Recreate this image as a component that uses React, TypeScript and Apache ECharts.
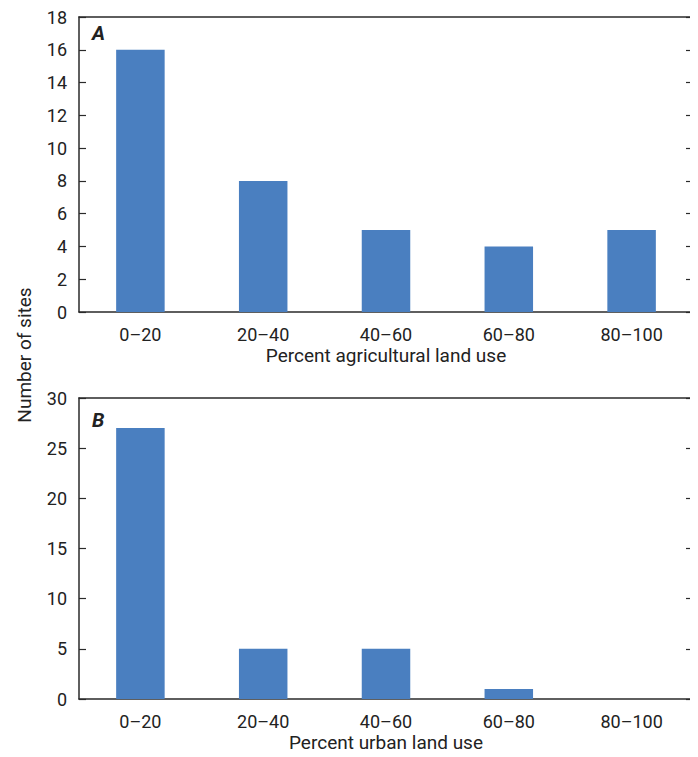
import React, { useEffect, useRef } from "react";
import * as echarts from "echarts";

const categories = ["0–20", "20–40", "40–60", "60–80", "80–100"];
const agriculturalSites = [16, 8, 5, 4, 5];
const urbanSites = [27, 5, 5, 1, 0];
const yTitle = "Number of sites";
const xTitleA = "Percent agricultural land use";
const xTitleB = "Percent urban land use";

const FONT = "'Roboto', 'Liberation Sans', sans-serif";
const BAR = "#4a7fc0";
const AX = "#2a2a2a";

export default function App() {
  const ref = useRef<HTMLDivElement>(null);
  useEffect(() => {
    if (!ref.current) return;
    const chart = echarts.init(ref.current, null, { renderer: "svg" });
    const grids = [
      { left: 71, top: 5, width: 614, height: 299 },
      { left: 71, top: 390, width: 614, height: 301 },
    ];
    const line = { show: true, onZero: false, lineStyle: { color: AX, width: 1.5 } };
    const xBottom = (gi: number, name: string) => ({
      type: "category",
      gridIndex: gi,
      data: categories,
      position: "bottom",
      name,
      nameLocation: "middle",
      nameGap: 34,
      nameTextStyle: { fontFamily: FONT, fontSize: 19, color: "#222" },
      axisLine: line,
      axisTick: { inside: true, length: 6, lineStyle: { color: AX, width: 1.2 } },
      axisLabel: { fontFamily: FONT, fontSize: 18, color: "#222", margin: 13 },
    });
    const xTop = (gi: number) => ({
      type: "category",
      gridIndex: gi,
      data: categories,
      position: "top",
      axisLine: line,
      axisTick: { inside: true, length: 6, lineStyle: { color: AX, width: 1.2 } },
      axisLabel: { show: false },
    });
    const yLeft = (gi: number, max: number, interval: number) => ({
      type: "value",
      gridIndex: gi,
      min: 0,
      max,
      interval,
      position: "left",
      splitLine: { show: false },
      axisLine: line,
      axisTick: { show: true, inside: true, length: 7, lineStyle: { color: AX, width: 1.2 } },
      axisLabel: { fontFamily: FONT, fontSize: 18, color: "#222", margin: 12 },
    });
    const yRight = (gi: number, max: number, interval: number) => ({
      type: "value",
      gridIndex: gi,
      min: 0,
      max,
      interval,
      position: "right",
      splitLine: { show: false },
      axisLine: line,
      axisTick: { show: true, inside: true, length: 7, lineStyle: { color: AX, width: 1.2 } },
      axisLabel: { show: false },
    });
    chart.setOption({
      animation: false,
      grid: grids,
      xAxis: [xBottom(0, xTitleA), xTop(0), xBottom(1, xTitleB), xTop(1)],
      yAxis: [yLeft(0, 18, 2), yRight(0, 18, 2), yLeft(1, 30, 5), yRight(1, 30, 5)],
      series: [
        {
          type: "bar",
          xAxisIndex: 0,
          yAxisIndex: 0,
          data: agriculturalSites,
          barWidth: "39.5%",
          itemStyle: { color: BAR },
        },
        {
          type: "bar",
          xAxisIndex: 2,
          yAxisIndex: 2,
          data: urbanSites,
          barWidth: "39.5%",
          itemStyle: { color: BAR },
        },
      ],
      graphic: [
        {
          type: "text",
          left: 84,
          top: 15,
          style: { text: "A", font: `italic bold 20px ${FONT}`, fill: "#222" },
        },
        {
          type: "text",
          left: 84,
          top: 402,
          style: { text: "B", font: `italic bold 20px ${FONT}`, fill: "#222" },
        },
        {
          type: "text",
          x: 16,
          y: 347,
          rotation: Math.PI / 2,
          style: {
            text: yTitle,
            font: `19px ${FONT}`,
            fill: "#222",
            align: "center",
            verticalAlign: "middle",
          },
        },
      ],
    });
    return () => chart.dispose();
  }, []);
  return <div ref={ref} style={{ width: 690, height: 749 }} />;
}
